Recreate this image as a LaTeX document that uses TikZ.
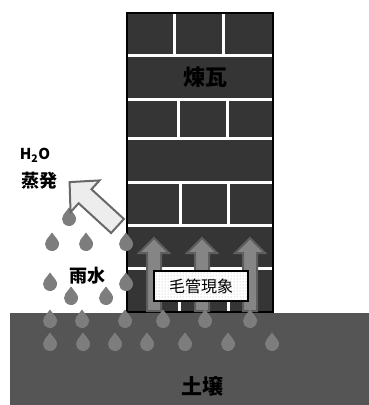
\documentclass[tikz,border=0pt]{standalone}
\usepackage{fontspec}
\newfontfamily\jp{Noto Sans CJK JP}
\usetikzlibrary{patterns}

\definecolor{brick}{HTML}{353535}
\definecolor{soil}{HTML}{555555}
\definecolor{water}{HTML}{7D7D7D}
\definecolor{flowfill}{HTML}{858585}
\definecolor{flowline}{HTML}{5E5E5E}
\definecolor{steam}{HTML}{EDEDED}
\definecolor{steamline}{HTML}{686868}

\tikzset{
  joint/.style={white, line width=3pt},
  uparrow/.style={fill=flowfill, draw=flowline, line width=2pt},
  label/.style={font=\fontsize{#1}{#1}\jp\bfseries, inner sep=0pt},
  raindrop/.pic={
    \fill[water] (0,-11.5) -- (-37.5:7)
      arc[start angle=-37.5, end angle=217.5, radius=7] -- cycle;
  }
}

\begin{document}
\begin{tikzpicture}[x=1pt, y=-1pt]
    \useasboundingbox (0,0) rectangle (369,405);

    % brick wall
    \fill[brick] (127,13) rectangle (273,312);
    \foreach \y in {55,99,138,182,225,268}
      \draw[joint] (128,\y) -- (272,\y);
    \foreach \x/\top/\bot in {174/13/55, 223/13/55, 178/99/138, 227/99/138,
                              180/182/225, 228/182/225, 179/268/312, 228/268/312}
      \draw[joint] (\x,\top) -- (\x,\bot);
    \draw[line width=1.2pt] (127,13) rectangle (273,312);
    \node[label=22] (brick) at (205,77) {煉瓦};

    % ground
    \fill[soil] (10,313) rectangle (369,405);
    \node[label=21] (soil) at (202,386) {土壌};

    % water rising through the wall
    \foreach \c in {154,202,250}
      \draw[uparrow] (\c-7,311) -- (\c-7,253) -- (\c-15,253) -- (\c,238)
        -- (\c+15,253) -- (\c+7,253) -- (\c+7,311) -- cycle;

    % rain, in the air and soaking in
    \foreach \x/\y in {69/219, 52/244, 86/244, 126/244, 50/284, 126/284,
                       71/298, 106/298}
      \pic at (\x,\y) {raindrop};
    \foreach \x in {50,82,125,163,205,250}
      \pic at (\x,321) {raindrop};
    \foreach \x in {50,83,115,147,185,228,272}
      \pic at (\x,344) {raindrop};
    \node[label=18] (rain) at (88,276) {雨水};

    \node[draw, line width=1.2pt, fill=white,
          postaction={pattern=dots, pattern color=gray!65},
          minimum width=94pt, minimum height=30pt,
          font=\fontsize{16}{16}\jp] (capil) at (201,286) {毛管現象};

    % evaporation
    \begin{scope}[shift={(117.5,226)}, rotate=137.5]
      \draw[fill=steam, draw=steamline, line width=2pt]
        (0,-9.5) -- (44,-9.5) -- (44,-21.5) -- (65,0)
        -- (44,21.5) -- (44,9.5) -- (0,9.5) -- cycle;
    \end{scope}
    \node[label=15] (vapor) at (35,155) {H\textsubscript{2}O};
    \node[label=18] (evap) at (39,181) {蒸発};
\end{tikzpicture}
\end{document}
